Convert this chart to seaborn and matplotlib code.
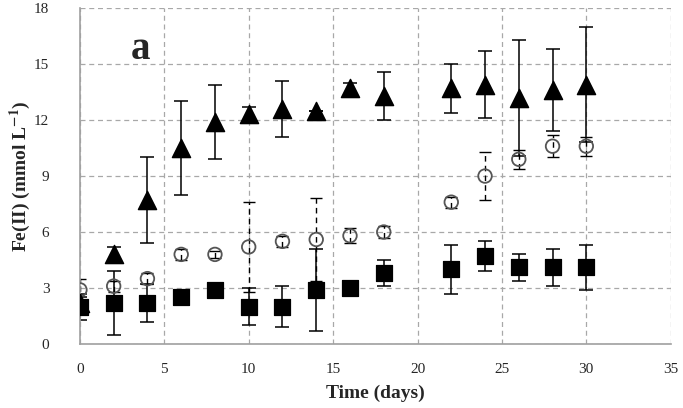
import matplotlib
matplotlib.use("Agg")
import matplotlib.pyplot as plt
import seaborn as sns
import pandas as pd

# time points (days)
days = [0, 2, 4, 6, 8, 10, 12, 14, 16, 18, 22, 24, 26, 28, 30]

# triangles
tri_val = [2.2, 4.8, 7.7, 10.5, 11.9, 12.3, 12.6, 12.5, 13.7, 13.3, 13.7, 13.9, 13.2, 13.6, 13.9]
tri_err = [0.3, 0.4, 2.3, 2.5, 2.0, 0.4, 1.5, 0.0, 0.3, 1.3, 1.3, 1.8, 3.1, 2.2, 3.1]

# open circles
circ_val = [2.9, 3.1, 3.5, 4.8, 4.8, 5.2, 5.5, 5.6, 5.8, 6.0, 7.6, 9.0, 9.9, 10.6, 10.6]
circ_err = [0.6, 0.3, 0.3, 0.3, 0.2, 2.4, 0.3, 2.2, 0.4, 0.3, 0.3, 1.3, 0.5, 0.6, 0.5]

# squares
sq_val = [2.0, 2.2, 2.2, 2.5, 2.9, 2.0, 2.0, 2.9, 3.0, 3.8, 4.0, 4.7, 4.1, 4.1, 4.1]
sq_err = [0.7, 1.7, 1.0, 0.2, 0.2, 1.0, 1.1, 2.2, 0.2, 0.7, 1.3, 0.8, 0.7, 1.0, 1.2]

sns.set_style("white")
plt.rcParams["font.family"] = ["Liberation Serif", "DejaVu Serif"]
plt.rcParams["mathtext.fontset"] = "stix"

fig, ax = plt.subplots(figsize=(6.83, 4.08), dpi=100)
fig.subplots_adjust(left=0.117, right=0.982, top=0.98, bottom=0.157)

df = pd.DataFrame({"day": days, "tri": tri_val, "circ": circ_val, "sq": sq_val})

# error bars first
ax.errorbar(days, sq_val, yerr=sq_err, fmt="none", ecolor="black", elinewidth=1.1, capsize=5, capthick=1.1, zorder=2)
eb = ax.errorbar(days, circ_val, yerr=circ_err, fmt="none", ecolor="black", elinewidth=1.0, capsize=4, capthick=1.0, zorder=2)
eb[2][0].set_linestyle((0, (4, 3)))
ax.errorbar(days, tri_val, yerr=tri_err, fmt="none", ecolor="black", elinewidth=1.1, capsize=5, capthick=1.1, zorder=2)

sns.scatterplot(data=df, x="day", y="sq", marker="s", s=120, color="black", edgecolor="black", ax=ax, zorder=3)
sns.scatterplot(data=df, x="day", y="circ", marker="o", s=95, facecolor="none", edgecolor="#555555", linewidth=1.3, ax=ax, zorder=3)
sns.scatterplot(data=df, x="day", y="tri", marker="^", s=170, color="black", edgecolor="black", ax=ax, zorder=4)

ax.set_xlim(0, 35)
ax.set_ylim(0, 18)
ax.set_xticks(range(0, 36, 5))
ax.set_yticks(range(0, 19, 3))
ax.grid(True, linestyle=(0, (4, 3)), color="#a8a8a8", linewidth=0.9)
ax.set_axisbelow(True)
for s in ["top", "right"]:
    ax.spines[s].set_visible(False)
for s in ["left", "bottom"]:
    ax.spines[s].set_color("#a0a0a0")
    ax.spines[s].set_linewidth(1.2)
ax.tick_params(axis="x", length=0, labelsize=11, pad=14)
ax.tick_params(axis="y", length=0, labelsize=11, pad=22)

ax.set_xlabel("Time (days)", fontsize=14, fontweight="bold", labelpad=6)
ax.set_ylabel(r"Fe(II) (mmol L$^{\mathbf{-1}}$)", fontsize=14, fontweight="bold", labelpad=1)
ax.text(3.6, 15.8, "a", fontsize=28, fontweight="bold", ha="center", va="center")

fig.savefig("out.png", dpi=100)
